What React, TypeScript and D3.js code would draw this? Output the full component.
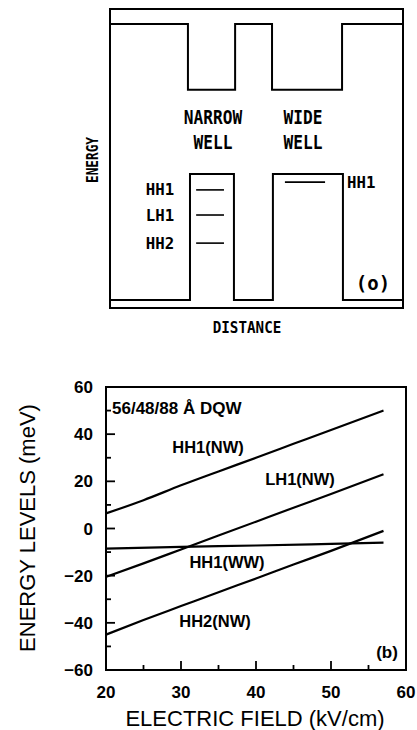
import React from 'react';
import * as d3 from 'd3';

// ---- panel (a): band profile schematic (distance 0..100, energy 0..100) ----
const conductionProfile: [number, number][] = [
  [0, 95], [26.6, 95], [26.6, 73], [42.7, 73], [42.7, 95],
  [55.3, 95], [55.3, 73], [79.2, 73], [79.2, 95], [100, 95],
];
const valenceProfile: [number, number][] = [
  [0, 2.7], [27.3, 2.7], [27.3, 44.8], [42.3, 44.8], [42.3, 2.7],
  [55.6, 2.7], [55.6, 44.8], [79.5, 44.8], [79.5, 2.7], [100, 2.7],
];
const narrowLevels = [
  { name: 'HH1', e: 39.5 },
  { name: 'LH1', e: 31.1 },
  { name: 'HH2', e: 21.7 },
];
const wideLevel = { name: 'HH1', e: 42.1 };

// ---- panel (b): energy levels vs field ----
const fieldTicks = [20, 30, 40, 50, 60];
const energyTicks = [-60, -40, -20, 0, 20, 40, 60];
const hh1NW: [number, number][] = [[20, 6.4], [25, 12], [30, 18.3], [35, 24.2], [40, 30], [45, 35.9], [50, 41.8], [57, 50]];
const lh1NW: [number, number][] = [[20, -20.5], [25, -14.8], [30, -8.9], [35, -3], [40, 2.9], [45, 8.8], [50, 14.6], [57, 23]];
const hh1WW: [number, number][] = [[20, -8.5], [30, -7.8], [40, -7.2], [50, -6.5], [57, -6]];
const hh2NW: [number, number][] = [[20, -45], [25, -38.8], [30, -32.9], [35, -27], [40, -21.2], [45, -15.3], [50, -9.5], [57, -1]];

const topFont = '"DejaVu Sans Mono", monospace';
const botFont = '"Liberation Sans", Arial, sans-serif';

// text squeezed horizontally around its anchor point
function Squeezed({ x, y, sx = 1, size, anchor = 'middle', children }: {
  x: number; y: number; sx?: number; size: number; anchor?: string; children: React.ReactNode;
}) {
  return (
    <text transform={`translate(${x},${y}) scale(${sx},1)`} textAnchor={anchor} fontSize={size}>
      {children}
    </text>
  );
}

export default function App() {
  // panel (a) scales
  const ax = d3.scaleLinear().domain([0, 100]).range([110, 403]);
  const ay = d3.scaleLinear().domain([0, 100]).range([308, 9]);
  const profileLine = d3.line<[number, number]>().x(d => ax(d[0])).y(d => ay(d[1]));

  // panel (b) scales
  const bx = d3.scaleLinear().domain([20, 60]).range([106, 406]);
  const by = d3.scaleLinear().domain([-60, 60]).range([670, 387]);
  const curve = d3.line<[number, number]>().x(d => bx(d[0])).y(d => by(d[1])).curve(d3.curveMonotoneX);

  const minorY = d3.range(-50, 60, 20);
  const minorX = d3.range(25, 60, 5).filter(v => v % 10 !== 0);

  return (
    <svg width={417} height={730} style={{ position: 'absolute', left: 0, top: 0, background: '#fff' }}>
      {/* ---------- panel (a) ---------- */}
      <g fill="none" stroke="#000" strokeWidth={2}>
        <rect x={ax(0)} y={ay(100)} width={ax(100) - ax(0)} height={ay(0) - ay(100)} />
        <path d={profileLine(conductionProfile) || ''} />
        <path d={profileLine(valenceProfile) || ''} />
        {narrowLevels.map(l => (
          <line key={l.name} x1={ax(29.4)} x2={ax(38.9)} y1={ay(l.e)} y2={ay(l.e)} strokeWidth={1.6} />
        ))}
        <line x1={ax(59.7)} x2={ax(73.4)} y1={ay(wideLevel.e)} y2={ay(wideLevel.e)} strokeWidth={1.6} />
      </g>
      <g fontFamily={topFont} fontWeight="bold" fill="#000">
        <Squeezed x={213} y={124} sx={0.85} size={19}>NARROW</Squeezed>
        <Squeezed x={213} y={149} sx={0.85} size={19}>WELL</Squeezed>
        <Squeezed x={303} y={124} sx={0.85} size={19}>WIDE</Squeezed>
        <Squeezed x={303} y={149} sx={0.85} size={19}>WELL</Squeezed>
        {narrowLevels.map(l => (
          <Squeezed key={l.name} x={160} y={ay(l.e) + 5.5} sx={1.05} size={15}>{l.name}</Squeezed>
        ))}
        <Squeezed x={347} y={ay(wideLevel.e) + 5.5} sx={1.05} size={15} anchor="start">{wideLevel.name}</Squeezed>
        <Squeezed x={373} y={290} sx={1} size={19}>(o)</Squeezed>
        <text transform="translate(98,160) rotate(-90) scale(0.85,1)" textAnchor="middle" fontSize={15}>ENERGY</text>
        <Squeezed x={247} y={333} sx={0.95} size={15}>DISTANCE</Squeezed>
      </g>

      {/* ---------- panel (b) ---------- */}
      <rect x={bx(20)} y={by(60)} width={bx(60) - bx(20)} height={by(-60) - by(60)} fill="none" stroke="#000" strokeWidth={2} />
      <g stroke="#000" strokeWidth={1.8}>
        {energyTicks.slice(1, -1).map(v => (
          <line key={'ym' + v} x1={bx(20)} x2={bx(20) + 9} y1={by(v)} y2={by(v)} />
        ))}
        {minorY.map(v => (
          <line key={'yn' + v} x1={bx(20)} x2={bx(20) + 5} y1={by(v)} y2={by(v)} />
        ))}
        {fieldTicks.slice(1, -1).map(v => (
          <line key={'xm' + v} x1={bx(v)} x2={bx(v)} y1={by(-60)} y2={by(-60) - 9} />
        ))}
        {minorX.map(v => (
          <line key={'xn' + v} x1={bx(v)} x2={bx(v)} y1={by(-60)} y2={by(-60) - 5} />
        ))}
      </g>
      <g fill="none" stroke="#000" strokeWidth={2.2}>
        {[hh1NW, lh1NW, hh1WW, hh2NW].map((s, i) => (
          <path key={i} d={curve(s) || ''} />
        ))}
      </g>
      <g fontFamily={botFont} fontWeight="bold" fill="#000">
        {energyTicks.map(v => (
          <text key={'yl' + v} x={bx(20) - 13} y={by(v) + 6} textAnchor="end" fontSize={17}>
            {v < 0 ? '\u2212' + Math.abs(v) : v}
          </text>
        ))}
        {fieldTicks.map(v => (
          <text key={'xl' + v} x={bx(v)} y={by(-60) + 28} textAnchor="middle" fontSize={17}>{v}</text>
        ))}
        <g fontSize={16.5}>
          <text x={112} y={414} fontSize={17}>56/48/88 Å DQW</text>
          <text x={208} y={453} textAnchor="middle">HH1(NW)</text>
          <text x={300} y={485} textAnchor="middle">LH1(NW)</text>
          <text x={227} y={568} textAnchor="middle">HH1(WW)</text>
          <text x={215} y={627} textAnchor="middle">HH2(NW)</text>
          <text x={387} y={658} textAnchor="middle" fontSize={17}>(b)</text>
        </g>
        <text x={255} y={726} textAnchor="middle" fontSize={22} fontWeight="normal">
          ELECTRIC FIELD (kV/cm)
        </text>
        <text transform="translate(35,528) rotate(-90)" textAnchor="middle" fontSize={22} fontWeight="normal">
          ENERGY LEVELS (meV)
        </text>
      </g>
    </svg>
  );
}
